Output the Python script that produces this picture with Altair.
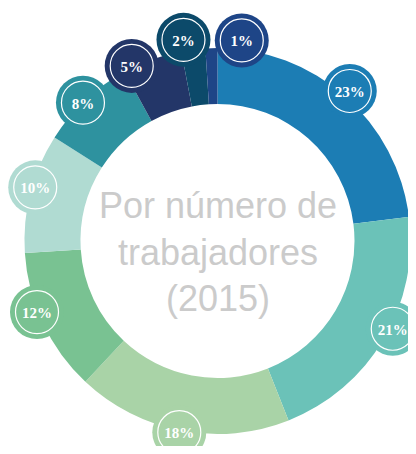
import altair as alt
import pandas as pd
import numpy as np

# ---- data ----
labels = ["23%", "21%", "18%", "12%", "10%", "8%", "5%", "2%", "1%"]
values = [23, 21, 18, 12, 10, 8, 5, 2, 1]
colors = ["#1c7db4", "#6bc2b8", "#a9d3a7", "#79c292", "#b0dbd2",
          "#2e929f", "#233668", "#0c4a6a", "#1e4587"]
center_lines = ["Por número de", "trabajadores", "(2015)"]

# ---- layout ----
W, H = 400, 438
CX, CY = 209.5, 233.0
R_OUT, R_IN = 193, 137
SEP = 16.5                      # min angular separation of label bubbles (deg)
# label bubble placement tweaks (layout only)
lab_radius = [200, 196, 195, 194, 190, 193, 195, 204, 202]
lab_nudge = [0, -4, 0.5, 3.7, 2, -1, 0, 0, 0]

n = len(values)
total = float(sum(values))
cum = np.cumsum([0] + values)
mid = [(cum[i] + values[i] / 2) / total * 360 for i in range(n)]


def spread(angles, sep):
    clusters = [[i] for i in range(len(angles))]

    def pos(cl):
        c = np.mean([angles[i] for i in cl])
        return [c + (k - (len(cl) - 1) / 2) * sep for k in range(len(cl))]

    changed = True
    while changed:
        changed = False
        for j in range(len(clusters) - 1):
            if pos(clusters[j + 1])[0] - pos(clusters[j])[-1] < sep:
                clusters[j] = clusters[j] + clusters[j + 1]
                del clusters[j + 1]
                changed = True
                break
    out = {}
    for cl in clusters:
        for i, p in zip(cl, pos(cl)):
            out[i] = p
    return [out[i] for i in range(len(angles))]


lab_ang = [a + d for a, d in zip(spread(mid, SEP), lab_nudge)]
lx = [CX + r * np.sin(np.radians(a)) for a, r in zip(lab_ang, lab_radius)]
ly = [CY - r * np.cos(np.radians(a)) for a, r in zip(lab_ang, lab_radius)]

df = pd.DataFrame({"label": labels, "value": values, "idx": list(range(n)),
                   "lx": lx, "ly": ly})

color_scale = alt.Scale(domain=labels, range=colors)

arcs = alt.Chart(df).mark_arc(radius=R_OUT, radius2=R_IN).encode(
    theta=alt.Theta("value:Q", stack=True),
    order=alt.Order("idx:Q"),
    color=alt.Color("label:N", scale=color_scale, legend=None),
    x=alt.value(CX),
    y=alt.value(CY),
)

base = alt.Chart(df).encode(
    x=alt.X("lx:Q", scale=alt.Scale(domain=[0, W], nice=False, zero=False), axis=None),
    y=alt.Y("ly:Q", scale=alt.Scale(domain=[H, 0], nice=False, zero=False), axis=None),
)

dots = base.mark_circle(size=54 ** 2, opacity=1).encode(
    color=alt.Color("label:N", scale=color_scale, legend=None)
)
rings = base.mark_point(shape="circle", filled=False, size=43 ** 2,
                        stroke="white", strokeWidth=1.2, opacity=1)
texts = base.mark_text(font="Liberation Serif", fontWeight="bold", fontSize=15,
                       color="white", baseline="middle", align="center", dy=1).encode(
    text="label:N"
)

center = alt.Chart(pd.DataFrame({"a": [0]})).mark_text(
    text=center_lines, font="Liberation Sans", fontSize=36, color="#cbcbcb",
    align="center", baseline="alphabetic", lineHeight=46.5
).encode(x=alt.value(210), y=alt.value(210))

chart = alt.layer(arcs, dots, rings, texts, center).properties(
    width=W, height=H, padding=0,
    autosize=alt.AutoSizeParams(type="none")
).configure_view(stroke=None)

chart.save("out.html", embed_options={"renderer": "svg", "actions": False})
